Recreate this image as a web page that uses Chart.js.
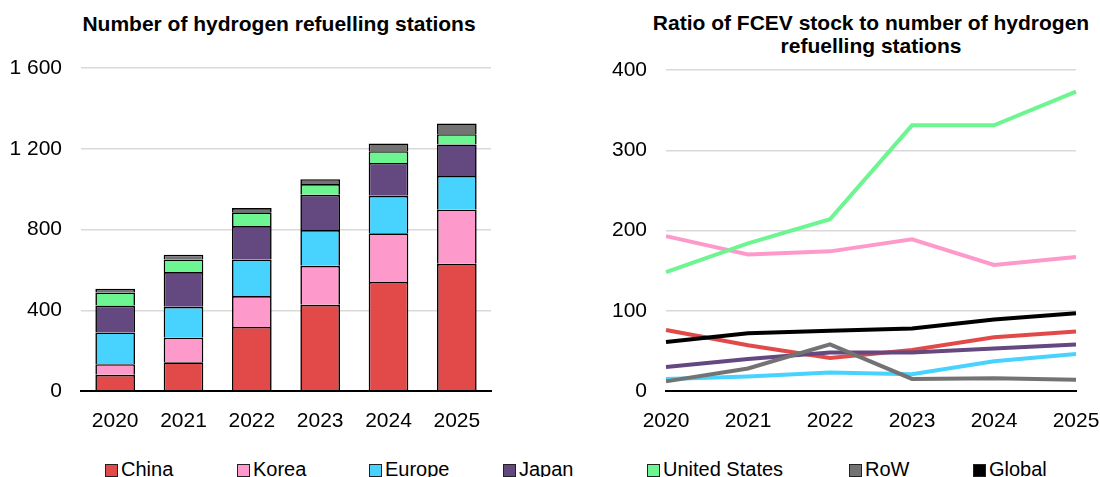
<!DOCTYPE html>
<html>
<head>
<meta charset="utf-8">
<script src="https://cdn.jsdelivr.net/npm/chart.js@4/dist/chart.umd.min.js"></script>
<style>
    html, body { margin: 0; padding: 0; background: #fff; }
    body { width: 1100px; height: 477px; position: relative; overflow: hidden; font-family: "Liberation Sans", Arial, sans-serif; color: #000; }
    .title { position: absolute; width: 600px; text-align: center; font-weight: bold; font-size: 21px; line-height: 23px; }
    .box { position: absolute; top: 0; }
    .legend-item { position: absolute; top: 459px; font-size: 20px; line-height: 20px; white-space: nowrap; }
    .legend-item span { position: absolute; top: 5px; left: 0; width: 11px; height: 11px; border: 1px solid #222; }
    .legend-item b { font-weight: normal; position: absolute; left: 16px; top: 0; }
</style>
</head>
<body>
<div class="title" style="left:-21px; top:12px;">Number of hydrogen refuelling stations</div>
<div class="title" style="left:571px; top:11px;">Ratio of FCEV stock to number of hydrogen<br>refuelling stations</div>
<div class="box" style="left:0; width:510px; height:445px;"><canvas id="stations-chart"></canvas></div>
<div class="box" style="left:560px; width:540px; height:445px;"><canvas id="ratio-chart"></canvas></div>
<div id="legend"></div>

<script>
// Data
const years = ['2020', '2021', '2022', '2023', '2024', '2025'];
const seriesNames = ['China', 'Korea', 'Europe', 'Japan', 'United States', 'RoW', 'Global'];
const seriesColors = ['#e24a4a', '#fe9acb', '#48d3fe', '#644880', '#6cf590', '#737373', '#000000'];

// Number of hydrogen refuelling stations (stacked)
const stationsChina = [80, 142, 317, 427, 540, 630];
const stationsKorea = [53, 122, 153, 193, 241, 268];
const stationsEurope = [157, 153, 182, 177, 186, 167];
const stationsJapan = [133, 172, 165, 175, 163, 156];
const stationsUS = [65, 63, 68, 53, 58, 51];
const stationsRoW = [18, 23, 21, 24, 38, 53];

// Ratio of FCEV stock to stations
const ratioChina = [76, 57, 41, 51, 67, 74];
const ratioKorea = [193, 170, 174, 189, 157, 167];
const ratioEurope = [15, 18, 23, 21, 37, 46];
const ratioJapan = [30, 40, 48, 48, 53, 58];
const ratioUS = [148, 184, 214, 331, 331, 373];
const ratioRoW = [12, 28, 58, 15, 16, 14];
const ratioGlobal = [61, 72, 75, 78, 89, 97];

const legendX = [105, 237, 369, 503, 647, 849, 973];

Chart.defaults.font.family = '"Liberation Sans", Arial, sans-serif';
Chart.defaults.color = '#000';
Chart.defaults.animation = false;

const gridColor = ctx => ctx.tick && ctx.tick.value === 0 ? '#000' : '#d9d9d9';
const gridWidth = ctx => ctx.tick && ctx.tick.value === 0 ? 2 : 1.5;

function spaced(v) {
    return String(v).replace(/\B(?=(\d{3})+(?!\d))/g, ' ');
}

// Stacked bar chart
const stackData = [stationsChina, stationsKorea, stationsEurope, stationsJapan, stationsUS, stationsRoW];
new Chart(document.getElementById('stations-chart'), {
    type: 'bar',
    data: {
        labels: years,
        datasets: stackData.map((d, i) => ({
            label: seriesNames[i],
            data: d,
            backgroundColor: seriesColors[i],
            borderColor: '#000',
            borderWidth: 1.6,
            barPercentage: 0.58,
            categoryPercentage: 1
        }))
    },
    options: {
        responsive: true,
        maintainAspectRatio: false,
        layout: { padding: { top: 68, right: 19, left: 0, bottom: 0 } },
        plugins: { legend: { display: false }, tooltip: { enabled: false } },
        scales: {
            x: {
                stacked: true,
                grid: { display: false, drawTicks: false },
                border: { color: '#000', width: 2 },
                ticks: { font: { size: 21 }, padding: 18 },
                afterFit: s => { s.height = 54; }
            },
            y: {
                stacked: true,
                min: 0,
                max: 1600,
                grid: { color: gridColor, lineWidth: gridWidth, drawTicks: false },
                border: { display: false },
                ticks: { stepSize: 400, font: { size: 21 }, padding: 19, callback: v => spaced(v) },
                afterFit: s => { s.width = 81; }
            }
        }
    }
});

// Line chart
const lineData = [ratioChina, ratioKorea, ratioEurope, ratioJapan, ratioUS, ratioRoW, ratioGlobal];
new Chart(document.getElementById('ratio-chart'), {
    type: 'line',
    data: {
        labels: years,
        datasets: lineData.map((d, i) => ({
            label: seriesNames[i],
            data: d,
            borderColor: seriesColors[i],
            backgroundColor: seriesColors[i],
            borderWidth: 4,
            pointRadius: 0,
            tension: 0,
            order: lineData.length - i
        }))
    },
    options: {
        responsive: true,
        maintainAspectRatio: false,
        layout: { padding: { top: 70, right: 24, left: 0, bottom: 0 } },
        plugins: { legend: { display: false }, tooltip: { enabled: false } },
        scales: {
            x: {
                grid: { display: false, drawTicks: false },
                border: { color: '#000', width: 2 },
                ticks: { font: { size: 21 }, padding: 18 },
                // keep the end labels from pushing the plot inwards
                afterFit: s => { s.height = 54; s.paddingLeft = 0; s.paddingRight = 0; }
            },
            y: {
                min: 0,
                max: 400,
                grid: { color: gridColor, lineWidth: gridWidth, drawTicks: false },
                border: { display: false },
                ticks: { stepSize: 100, font: { size: 21 }, padding: 19 },
                afterFit: s => { s.width = 106; }
            }
        }
    }
});

// Shared legend below both charts
const legend = document.getElementById('legend');
seriesNames.forEach((name, i) => {
    const item = document.createElement('div');
    item.className = 'legend-item';
    item.style.left = legendX[i] + 'px';
    item.innerHTML = '<span style="background:' + seriesColors[i] + '"></span><b>' + name + '</b>';
    legend.appendChild(item);
});
</script>
</body>
</html>
